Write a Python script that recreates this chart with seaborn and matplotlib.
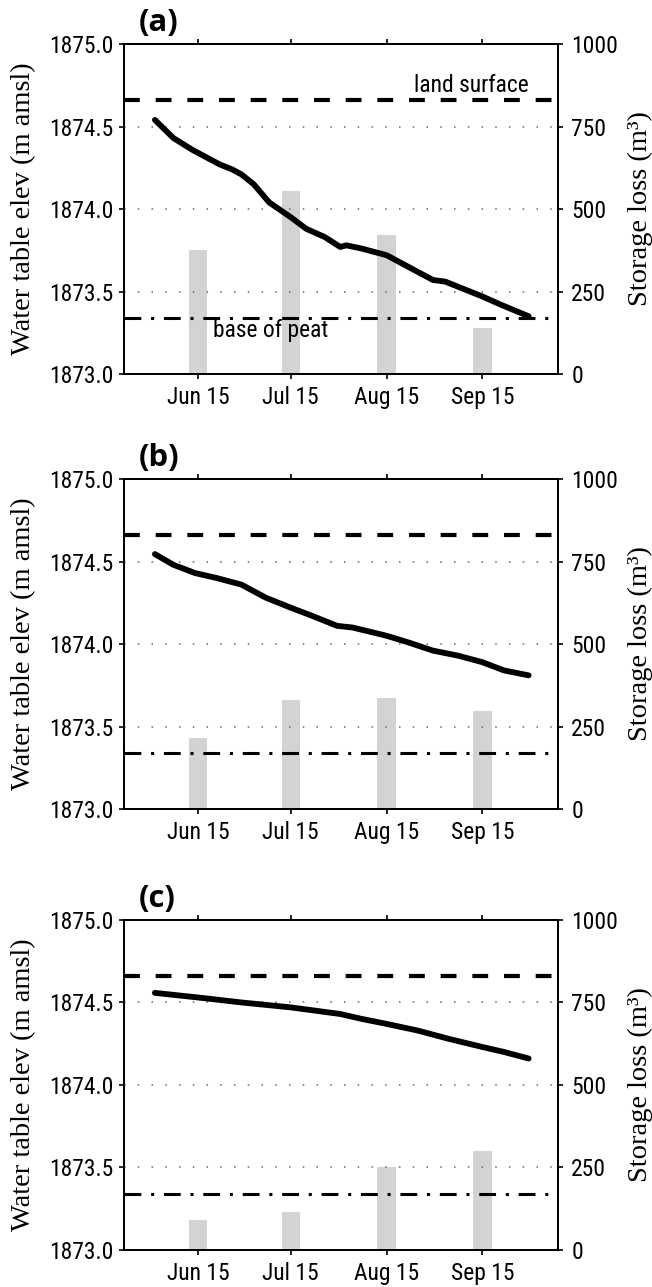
import numpy as np
import pandas as pd
import matplotlib
matplotlib.use("Agg")
import matplotlib.pyplot as plt
import matplotlib.dates as mdates
import matplotlib.font_manager as fm
from matplotlib.textpath import TextPath
import seaborn as sns

# ---------------- data ----------------
panel_labels = ["(a)", "(b)", "(c)"]

line_dates_a = ["06-01", "06-07", "06-13", "06-17", "06-22", "06-26", "06-29", "07-03",
                "07-08", "07-15", "07-20", "07-26", "07-31", "08-02", "08-07", "08-11",
                "08-15", "08-20", "08-26", "08-30", "09-03", "09-07", "09-15", "09-21", "09-30"]
elev_a = [1874.54, 1874.43, 1874.36, 1874.32, 1874.27, 1874.24, 1874.21, 1874.15,
          1874.04, 1873.95, 1873.88, 1873.83, 1873.77, 1873.78, 1873.76, 1873.74,
          1873.72, 1873.67, 1873.61, 1873.57, 1873.56, 1873.53, 1873.47, 1873.42, 1873.35]

line_dates_b = ["06-01", "06-07", "06-14", "06-21", "06-29", "07-07", "07-15", "07-22",
                "07-30", "08-04", "08-15", "08-22", "08-30", "09-07", "09-15", "09-22", "09-30"]
elev_b = [1874.545, 1874.48, 1874.43, 1874.40, 1874.36, 1874.28, 1874.22, 1874.17,
          1874.11, 1874.10, 1874.05, 1874.01, 1873.96, 1873.93, 1873.89, 1873.84, 1873.81]

line_dates_c = ["06-01", "06-15", "06-29", "07-15", "07-23", "07-31", "08-07", "08-15",
                "08-25", "09-04", "09-15", "09-22", "09-30"]
elev_c = [1874.558, 1874.53, 1874.50, 1874.47, 1874.45, 1874.43, 1874.40, 1874.37,
          1874.33, 1874.28, 1874.23, 1874.20, 1874.16]

bar_dates = ["06-15", "07-15", "08-15", "09-15"]
storage_a = [375, 556, 421, 138]
storage_b = [216, 329, 337, 297]
storage_c = [90, 115, 250, 299]

xtick_labels = ["Jun 15", "Jul 15", "Aug 15", "Sep 15"]
land_surface = 1874.66
base_of_peat = 1873.34
yticks_left = [1873.0, 1873.5, 1874.0, 1874.5, 1875.0]
yticks_right = [0, 250, 500, 750, 1000]

YEAR = "2014-"


def to_num(md_list):
    return mdates.date2num(pd.to_datetime([YEAR + d for d in md_list]))


# ---------------- font choice ----------------
def _w(e):
    try:
        return int(e.weight)
    except Exception:
        return {"normal": 400, "regular": 400, "book": 400, "bold": 700}.get(str(e.weight).lower(), 400)


def _narrow(e):
    s = str(e.stretch).lower()
    return ("condensed" in s) or ("narrow" in e.name.lower()) or ("condensed" in e.name.lower())


entries = fm.fontManager.ttflist


def pick(weight):
    prefs = ["Liberation Sans Narrow", "Roboto Condensed", "Open Sans Condensed",
             "Noto Sans Condensed", "Arial Narrow", "Nimbus Sans Narrow"]
    for p in prefs:
        c = [e for e in entries if e.name == p and e.style == "normal" and _w(e) == weight]
        if c:
            return c[0]
    for fam in ["Open Sans", "Noto Sans", "Roboto", "Lato"]:
        c = [e for e in entries if e.name.startswith(fam) and e.style == "normal"
             and _w(e) == weight and _narrow(e) and "semi" not in str(e.stretch).lower()
             and "extra" not in str(e.stretch).lower() and "ultra" not in str(e.stretch).lower()]
        if c:
            return c[0]
    for fam in ["Open Sans", "Liberation Sans", "DejaVu Sans"]:
        c = [e for e in entries if e.name == fam and e.style == "normal" and _w(e) == weight
             and not _narrow(e)]
        if c:
            return c[0]
    return None


reg = pick(400)
bold = [e for e in entries if e.name == "Open Sans" and e.style == "normal" and _w(e) == 700]
bold = bold[0] if bold else pick(700)


def fit_size(fname, text, target_w_px, target_h_px):
    fp = fm.FontProperties(fname=fname) if fname else fm.FontProperties(family="DejaVu Sans")
    ext = TextPath((0, 0), text, size=100, prop=fp).get_extents()
    s_w = target_w_px / (ext.width / 100.0) * 0.72
    s_h = target_h_px / (ext.height / 100.0) * 0.72
    return min(s_w, s_h)


reg_fname = reg.fname if reg is not None else None
bold_fname = bold.fname if bold is not None else None
TICK_FS = fit_size(reg_fname, "1875.0", 61, 17.5)
PANEL_FS = fit_size(bold_fname, "(a)", 38, 27)


def tick_fp():
    if reg_fname:
        return fm.FontProperties(fname=reg_fname, size=TICK_FS)
    return fm.FontProperties(family="DejaVu Sans", size=TICK_FS)


def panel_fp():
    if bold_fname:
        return fm.FontProperties(fname=bold_fname, size=PANEL_FS)
    return fm.FontProperties(family="DejaVu Sans", weight="bold", size=PANEL_FS)


# ---------------- style ----------------
sns.set_style("ticks")
plt.rcParams["font.family"] = ["DejaVu Sans"]
plt.rcParams["axes.linewidth"] = 1.4
plt.rcParams["xtick.major.width"] = 1.2
plt.rcParams["ytick.major.width"] = 1.2
plt.rcParams["xtick.major.size"] = 3.5
plt.rcParams["ytick.major.size"] = 3.5
plt.rcParams["xtick.color"] = "black"
plt.rcParams["ytick.color"] = "black"
plt.rcParams["axes.edgecolor"] = "black"
plt.rcParams["text.color"] = "black"
plt.rcParams["axes.labelcolor"] = "black"

LABEL_FS = 20.5
serif = ["Liberation Serif", "DejaVu Serif"]

fig = plt.figure(figsize=(6.52, 12.87), dpi=100)

bottoms = [0.7094, 0.3714, 0.0288]
panels = [
    (line_dates_a, elev_a, storage_a),
    (line_dates_b, elev_b, storage_b),
    (line_dates_c, elev_c, storage_c),
]

xmin = mdates.date2num(pd.Timestamp(YEAR + "05-22"))
xmax = mdates.date2num(pd.Timestamp(YEAR + "10-09 12:00"))

for i, (dts, elev, stor) in enumerate(panels):
    ax = fig.add_axes([0.1902, bottoms[i], 0.6656, 0.2564])
    ax2 = ax.twinx()
    ax.set_zorder(ax2.get_zorder() + 1)
    ax.patch.set_visible(False)

    # bars (storage loss) on the right axis
    ax2.bar(to_num(bar_dates), stor, width=6, color="#d3d3d3", edgecolor="none", zorder=1)
    ax2.set_ylim(0, 1000)
    ax2.set_yticks(yticks_right)
    ax2.set_yticklabels([str(v) for v in yticks_right])
    ax2.tick_params(axis="y", direction="out", pad=6)
    ax2.set_ylabel("Storage loss (m³)", family=serif, fontsize=LABEL_FS,
                   rotation=90, va="center")
    ax2.yaxis.set_label_coords(1.19, 0.5)

    # dotted grid
    for g in [1873.5, 1874.0, 1874.5]:
        ax.axhline(g, color="#666666", lw=1.1, ls=(0, (1, 8)), zorder=0.5)

    # reference lines
    ax.axhline(land_surface, color="black", lw=3, ls=(0, (3.8, 3.8)), zorder=2)
    ax.axhline(base_of_peat, color="black", lw=2.2, ls=(0, (5.5, 3.2, 1, 3.2)), zorder=2)

    # water table line
    sns.lineplot(x=to_num(dts), y=elev, ax=ax, color="black", lw=4.2, zorder=3)

    ax.set_xlim(xmin, xmax)
    ax.set_ylim(1873.0, 1875.0)
    ax.set_yticks(yticks_left)
    ax.set_yticklabels([f"{v:.1f}" for v in yticks_left])
    ax.set_xticks(to_num(bar_dates))
    ax.set_xticklabels(xtick_labels)
    ax.tick_params(axis="x", direction="out", top=True, pad=5)
    ax.tick_params(axis="y", direction="out", pad=4)
    ax.set_xlabel("")
    ax.set_ylabel("Water table elev (m amsl)", family=serif, fontsize=LABEL_FS, va="center")
    ax.yaxis.set_label_coords(-0.232, 0.5)

    for lbl in ax.get_xticklabels() + ax.get_yticklabels() + ax2.get_yticklabels():
        lbl.set_fontproperties(tick_fp())

    ax.text(0.035, 1.040, panel_labels[i], transform=ax.transAxes,
            fontproperties=panel_fp(), ha="left", va="baseline")

    if i == 0:
        ax.text(mdates.date2num(pd.Timestamp(YEAR + "08-23 18:00")), 1874.71, "land surface",
                fontproperties=tick_fp(), ha="left", va="baseline")
        ax.text(mdates.date2num(pd.Timestamp(YEAR + "06-19 18:00")), 1873.225, "base of peat",
                fontproperties=tick_fp(), ha="left", va="baseline")

fig.savefig("out.png", dpi=100)
